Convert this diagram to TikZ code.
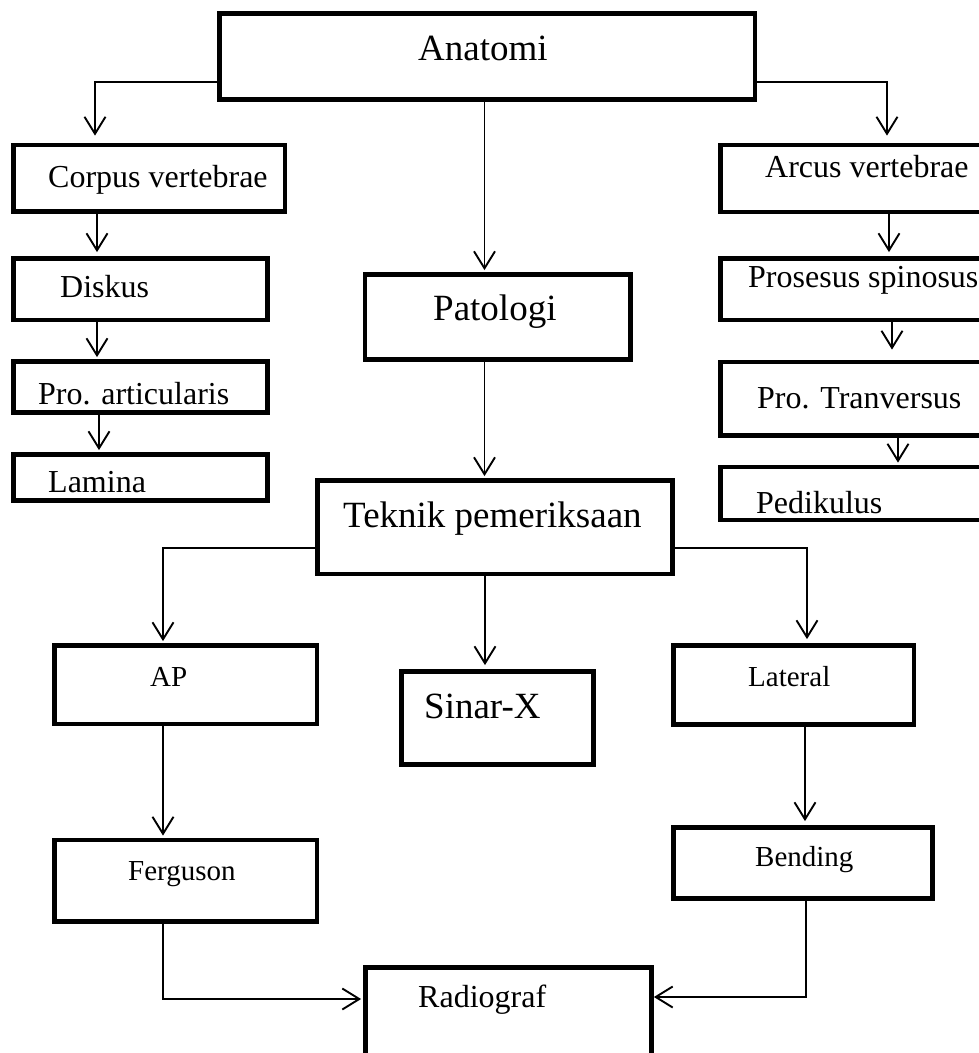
\documentclass[tikz,border=0pt]{standalone}
\usepackage{fontspec}
\setmainfont{Liberation Serif}
\usetikzlibrary{arrows.meta}

\begin{document}
\begin{tikzpicture}[
    x=1pt, y=-1pt,
    box/.style={rectangle, draw=black, line width=4.8pt, inner sep=0pt},
    lbl/.style={anchor=base west, inner sep=0pt, font=\fontsize{32}{38}\selectfont},
    biglbl/.style={lbl, font=\fontsize{37}{44}\selectfont},
    smalllbl/.style={lbl, font=\fontsize{29}{35}\selectfont},
    arr/.style={-{Straight Barb[length=17pt, width=21pt]}, line width=1.9pt, shorten >=2pt},
]
\useasboundingbox (0,0) rectangle (978,1053);

% boxes
\node[box, minimum width=535.5pt, minimum height=86pt] (anatomi) at (487.25,56.5) {};
\node[box, minimum width=271.5pt, minimum height=66.5pt] (corpus) at (149.25,178.25) {};
\node[box, minimum width=254pt, minimum height=61.5pt] (diskus) at (140.5,289.25) {};
\node[box, minimum width=254pt, minimum height=51pt] (proart) at (140.5,387) {};
\node[box, minimum width=254pt, minimum height=46pt] (lamina) at (140.5,477.5) {};
\node[box, minimum width=274.5pt, minimum height=67pt] (arcus) at (857.75,178.5) {};
\node[box, minimum width=274.5pt, minimum height=61.5pt] (prosesus) at (857.75,289.25) {};
\node[box, minimum width=274.5pt, minimum height=73.5pt] (tranv) at (857.75,398.75) {};
\node[box, minimum width=274.5pt, minimum height=53pt] (pedik) at (857.75,493.5) {};
\node[box, minimum width=265.5pt, minimum height=85pt] (patologi) at (497.75,317) {};
\node[box, minimum width=355pt, minimum height=93.5pt] (teknik) at (495,527.25) {};
\node[box, minimum width=262.5pt, minimum height=78.5pt] (ap) at (185.75,684.75) {};
\node[box, minimum width=192pt, minimum height=93pt] (sinar) at (497.5,718) {};
\node[box, minimum width=240.5pt, minimum height=79pt] (lateral) at (793.75,685) {};
\node[box, minimum width=262.5pt, minimum height=81.5pt] (ferguson) at (185.75,880.75) {};
\node[box, minimum width=259pt, minimum height=71pt] (bending) at (803,863) {};
\node[box, minimum width=286pt, minimum height=112.5pt] (radiograf) at (508.5,1023.75) {};

% texts
\node[biglbl] (t-anatomi) at (418,60) {Anatomi};
\node[lbl] (t-corpus) at (48,187) {Corpus vertebrae};
\node[lbl] (t-diskus) at (60,297) {Diskus};
\node[lbl] (t-proart) at (38,404) {Pro. articularis};
\node[lbl] (t-lamina) at (48,492) {Lamina};
\node[lbl] (t-arcus) at (765,177) {Arcus vertebrae};
\node[lbl] (t-prosesus) at (748,287) {Prosesus spinosus};
\node[lbl] (t-tranv) at (757,408) {Pro. Tranversus};
\node[lbl] (t-pedik) at (756,513) {Pedikulus};
\node[biglbl] (t-patologi) at (433,320) {Patologi};
\node[biglbl] (t-teknik) at (343,527) {Teknik pemeriksaan};
\node[smalllbl] (t-ap) at (150,686) {AP};
\node[biglbl] (t-sinar) at (424,718) {Sinar-X};
\node[smalllbl] (t-lateral) at (748,686) {Lateral};
\node[smalllbl] (t-ferguson) at (128,880) {Ferguson};
\node[smalllbl] (t-bending) at (755,866) {Bending};
\node[lbl] (t-radiograf) at (418,1007) {Radiograf};

% left column
\draw[arr, shorten >=7pt] ([yshift=-25.5pt]anatomi.west) -| ([xshift=-54.25pt]corpus.north);
\draw[arr, shorten >=4pt] ([xshift=-52.25pt]corpus.south) -- ([xshift=-52.25pt]corpus.south |- diskus.north);
\draw[arr] ([xshift=-43.5pt]diskus.south) -- ([xshift=-43.5pt]diskus.south |- proart.north);
\draw[arr] ([xshift=-41.5pt]proart.south) -- ([xshift=-41.5pt]proart.south |- lamina.north);

% right column
\draw[arr, shorten >=7pt] ([yshift=-25.5pt]anatomi.east) -| ([xshift=29.25pt]arcus.north);
\draw[arr, shorten >=4pt] ([xshift=31.25pt]arcus.south) -- ([xshift=31.25pt]arcus.south |- prosesus.north);
\draw[arr, shorten >=10pt] ([xshift=34.25pt]prosesus.south) -- ([xshift=34.25pt]prosesus.south |- tranv.north);
\draw[arr] ([xshift=40.25pt]tranv.south) -- ([xshift=40.25pt]tranv.south |- pedik.north);

% middle
\draw[arr] ([xshift=-2.75pt]anatomi.south) -- ([xshift=-2.75pt]anatomi.south |- patologi.north);
\draw[arr] ([xshift=-13.25pt]patologi.south) -- ([xshift=-13.25pt]patologi.south |- teknik.north);
\draw[arr] ([yshift=-20.75pt]teknik.west) -| ([xshift=-22.75pt]ap.north);
\draw[arr, shorten >=4pt] ([xshift=-10pt]teknik.south) -- ([xshift=-10pt]teknik.south |- sinar.north);
\draw[arr, shorten >=4pt] ([yshift=-20.75pt]teknik.east) -| ([xshift=13.25pt]lateral.north);
\draw[arr] ([xshift=-22.75pt]ap.south) -- ([xshift=-22.75pt]ap.south |- ferguson.north);
\draw[arr, shorten >=4pt] ([xshift=11.25pt]lateral.south) -- ([xshift=11.25pt]lateral.south |- bending.north);

% bottom
\draw[arr] ([xshift=-22.75pt]ferguson.south) |- ([yshift=24.75pt]radiograf.west);
\draw[arr, shorten >=0pt] ([xshift=3pt]bending.south) |- ([yshift=26.75pt]radiograf.east);

\end{tikzpicture}
\end{document}
